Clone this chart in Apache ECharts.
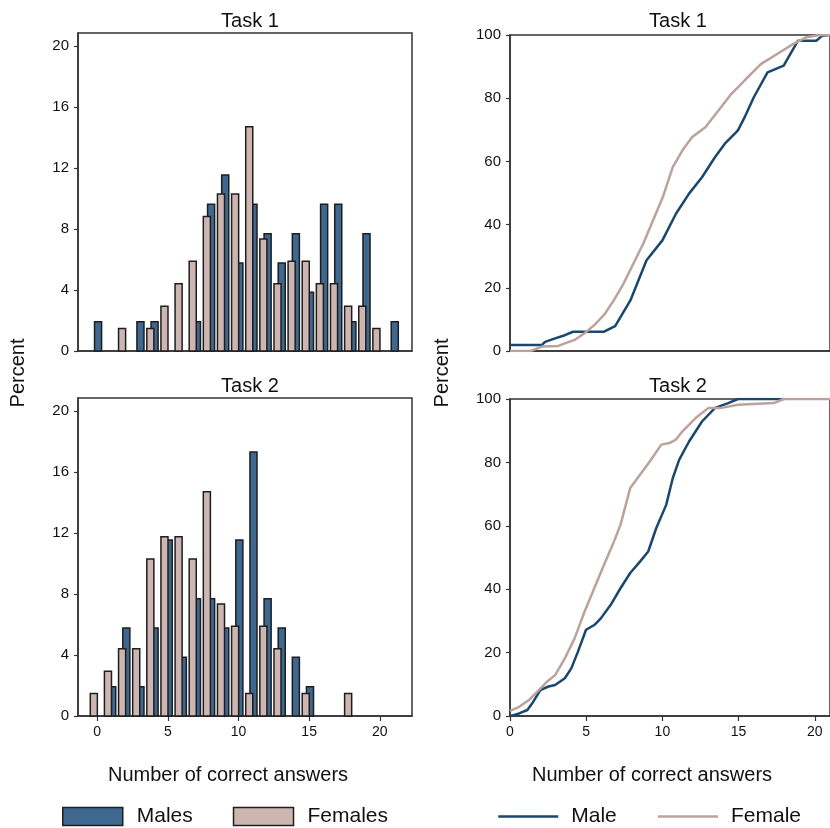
<!DOCTYPE html>
<html>
<head>
<meta charset="utf-8">
<script src="https://cdn.jsdelivr.net/npm/echarts@6/dist/echarts.min.js"></script>
<style>
html, body { margin: 0; padding: 0; background: #fff; }
#main { width: 830px; height: 828px; }
</style>
</head>
<body>
<div id="main"></div>
<script>
var myChart = echarts.init(document.getElementById('main'));

// histogram values (percent)
var t1MaleX = [0, 3, 4, 7, 8, 9, 10, 11, 12, 13, 14, 15, 16, 17, 18, 19, 21];
var t1MalePct = [1.92, 1.92, 1.92, 1.92, 9.62, 11.54, 5.77, 9.62, 7.69, 5.77, 7.69, 3.85, 9.62, 9.62, 1.92, 7.69, 1.92];
var t1FemaleX = [2, 4, 5, 6, 7, 8, 9, 10, 11, 12, 13, 14, 15, 16, 17, 18, 19, 20];
var t1FemalePct = [1.47, 1.47, 2.94, 4.41, 5.88, 8.82, 10.29, 10.29, 14.71, 7.35, 4.41, 5.88, 5.88, 4.41, 4.41, 2.94, 2.94, 1.47];

var t2MaleX = [1, 2, 3, 4, 5, 6, 7, 8, 9, 10, 11, 12, 13, 14, 15];
var t2MalePct = [1.92, 5.77, 1.92, 5.77, 11.54, 3.85, 7.69, 7.69, 5.77, 11.54, 17.31, 7.69, 5.77, 3.85, 1.92];
var t2FemaleX = [0, 1, 2, 3, 4, 5, 6, 7, 8, 9, 10, 11, 12, 13, 15, 18];
var t2FemalePct = [1.47, 2.94, 4.41, 4.41, 10.29, 11.76, 11.76, 10.29, 14.71, 7.35, 5.88, 1.47, 5.88, 4.41, 1.47, 1.47];

// cumulative curves [answers, percent]
var t1MaleCum = [[0, 1.92], [2.1, 1.92], [2.3, 2.9], [2.96, 4], [3.6, 5], [4.14, 6.1], [6.17, 6.1], [6.9, 7.9],
    [7.9, 16], [8.96, 28.7], [10.0, 35], [10.9, 43.5], [11.75, 49.8], [12.6, 55], [13.46, 61.4], [14.1, 65.6],
    [14.96, 69.8], [15.4, 74], [16.0, 80.3], [16.9, 88.2], [17.96, 90.3], [18.9, 98.2], [20.1, 98.2], [20.5, 99.8], [21, 100]];
var t1FemaleCum = [[0, 0], [1.35, 0], [2.1, 1.4], [3.17, 1.6], [3.6, 2.4], [4.24, 3.5], [4.89, 5.6], [5.53, 8.2],
    [6.17, 11.4], [6.82, 16.1], [7.46, 21.4], [8.1, 27.7], [8.75, 34], [9.39, 41.4], [10.03, 48.7], [10.68, 58.2],
    [11.32, 63.5], [11.96, 67.7], [12.82, 70.8], [13.68, 76.1], [14.53, 81.4], [15.39, 85.6], [16.46, 90.8],
    [17.53, 94], [18.6, 97.2], [19.46, 99.3], [20.32, 100], [21, 100]];
var t2MaleCum = [[0, 0], [0.28, 0.3], [0.6, 0.8], [1.14, 1.9], [1.46, 4], [1.99, 8.2], [2.53, 9.3], [2.96, 9.8],
    [3.6, 11.9], [4.03, 15.1], [4.46, 20.3], [4.99, 27.2], [5.53, 28.7], [5.96, 30.8], [6.6, 35], [7.25, 40.3],
    [7.89, 45.1], [8.53, 48.7], [9.07, 51.9], [9.6, 59.3], [10.25, 66.6], [10.68, 75], [11.1, 80.8], [11.75, 86.6],
    [12.6, 92.9], [13.46, 97.2], [14.32, 98.7], [14.96, 100], [17.96, 100]];
var t2FemaleCum = [[0, 1.6], [0.6, 2.9], [1.24, 5], [1.89, 8.2], [2.42, 10.8], [2.96, 12.9], [3.6, 18.2], [4.24, 24.5],
    [4.89, 32.9], [5.53, 40.3], [6.17, 47.7], [6.82, 55], [7.25, 60.3], [7.89, 71.9], [8.53, 76.1], [9.17, 80.3],
    [9.93, 85.6], [10.46, 86.1], [10.89, 87.2], [11.32, 89.8], [12.18, 94], [13.03, 97.2], [13.89, 97.2],
    [14.96, 98.2], [17.32, 98.7], [17.96, 100], [21, 100]];

var histTicks = [0, 4, 8, 12, 16, 20];
var xTicks = [0, 5, 10, 15, 20];

var FONT = 'Liberation Sans, Arial, sans-serif';
var maleFill = '#3e6890';
var femaleFill = '#cdb6b1';
var maleLine = '#1a476f';
var femaleLine = '#bca29c';
var edge = '#1e1e1e';

function pairs(xs, ys) {
    var res = [];
    for (var i = 0; i < xs.length; i++) {
        res.push([xs[i], ys[i]]);
    }
    return res;
}

// bars sit a little to the side of each integer, females drawn over males
function histBar(offset, color) {
    return function (params, api) {
        var x = api.value(0), y = api.value(1);
        var a = api.coord([x + offset - 0.25, y]);
        var b = api.coord([x + offset + 0.25, 0]);
        return {
            type: 'rect',
            shape: {x: a[0], y: a[1], width: b[0] - a[0], height: b[1] - a[1]},
            style: {fill: color, stroke: edge, lineWidth: 1.5}
        };
    };
}

function gridBox(left, top, width, height) {
    return {left: left, top: top, width: width, height: height, show: true,
        borderColor: '#333', borderWidth: 1.5, backgroundColor: 'transparent'};
}

function xAx(idx, min, max, labels) {
    return {
        type: 'value', gridIndex: idx, min: min, max: max,
        splitLine: {show: false},
        axisLine: {show: true, onZero: false, lineStyle: {color: '#333', width: 1.5}},
        axisTick: {show: labels, length: 5, customValues: xTicks, lineStyle: {color: '#333', width: 1.2}},
        axisLabel: {show: labels, customValues: xTicks, margin: 9, fontSize: 14, color: '#111', fontFamily: FONT}
    };
}

function yAx(idx, max, ticks) {
    return {
        type: 'value', gridIndex: idx, min: 0, max: max,
        splitLine: {show: false},
        axisLine: {show: true, onZero: false, lineStyle: {color: '#333', width: 1.5}},
        axisTick: {show: true, length: 4, customValues: ticks, lineStyle: {color: '#333', width: 1.2}},
        axisLabel: {customValues: ticks, margin: 9, fontSize: 15, color: '#111', fontFamily: FONT}
    };
}

var titleStyle = {fontSize: 20, fontWeight: 'normal', color: '#111', fontFamily: FONT};

option = {
    backgroundColor: '#fff',
    animation: false,
    title: [
        {text: 'Task 1', left: 245, top: 6, textAlign: 'center', textStyle: titleStyle},
        {text: 'Task 2', left: 245, top: 371, textAlign: 'center', textStyle: titleStyle},
        {text: 'Task 1', left: 673, top: 6, textAlign: 'center', textStyle: titleStyle},
        {text: 'Task 2', left: 673, top: 371, textAlign: 'center', textStyle: titleStyle}
    ],
    grid: [
        gridBox(78, 33, 334, 318),
        gridBox(78, 398, 334, 318),
        gridBox(510, 35, 327, 316),
        gridBox(510, 399, 327, 317)
    ],
    xAxis: [
        xAx(0, -1.36, 22.28, false),
        xAx(1, -1.36, 22.28, true),
        xAx(2, 0, 21, false),
        xAx(3, 0, 21, true)
    ],
    yAxis: [
        yAx(0, 20.85, histTicks),
        yAx(1, 20.85, histTicks),
        yAx(2, 100, [0, 20, 40, 60, 80, 100]),
        yAx(3, 100, [0, 20, 40, 60, 80, 100])
    ],
    legend: [
        {
            data: ['Males', 'Females'], left: 57, top: 801, icon: 'rect',
            itemWidth: 60, itemHeight: 18, itemGap: 40,
            itemStyle: {borderColor: edge, borderWidth: 1.5},
            textStyle: {fontSize: 21, color: '#111', fontFamily: FONT, padding: [0, 0, 0, 9]}
        },
        {
            data: ['Male', 'Female'], left: 492, top: 801,
            itemWidth: 60, itemHeight: 18, itemGap: 40,
            itemStyle: {opacity: 0},
            lineStyle: {width: 2.5},
            textStyle: {fontSize: 21, color: '#111', fontFamily: FONT, padding: [0, 0, 0, 8]}
        }
    ],
    graphic: [
        {type: 'text', x: 18, y: 373, rotation: Math.PI / 2,
            style: {text: 'Percent', font: '20px Liberation Sans', fill: '#111', textAlign: 'center', textVerticalAlign: 'middle'}},
        {type: 'text', x: 442, y: 373, rotation: Math.PI / 2,
            style: {text: 'Percent', font: '20px Liberation Sans', fill: '#111', textAlign: 'center', textVerticalAlign: 'middle'}},
        {type: 'text', x: 228, y: 775,
            style: {text: 'Number of correct answers', font: '20px Liberation Sans', fill: '#111', textAlign: 'center', textVerticalAlign: 'middle'}},
        {type: 'text', x: 652, y: 775,
            style: {text: 'Number of correct answers', font: '20px Liberation Sans', fill: '#111', textAlign: 'center', textVerticalAlign: 'middle'}}
    ],
    series: [
        {name: 'Males', type: 'custom', xAxisIndex: 0, yAxisIndex: 0, data: pairs(t1MaleX, t1MalePct),
            renderItem: histBar(0.06, maleFill), itemStyle: {color: maleFill}, encode: {x: 0, y: 1}},
        {name: 'Females', type: 'custom', xAxisIndex: 0, yAxisIndex: 0, data: pairs(t1FemaleX, t1FemalePct),
            renderItem: histBar(-0.24, femaleFill), itemStyle: {color: femaleFill}, encode: {x: 0, y: 1}},
        {name: 'Males', type: 'custom', xAxisIndex: 1, yAxisIndex: 1, data: pairs(t2MaleX, t2MalePct),
            renderItem: histBar(0.06, maleFill), itemStyle: {color: maleFill}, encode: {x: 0, y: 1}},
        {name: 'Females', type: 'custom', xAxisIndex: 1, yAxisIndex: 1, data: pairs(t2FemaleX, t2FemalePct),
            renderItem: histBar(-0.24, femaleFill), itemStyle: {color: femaleFill}, encode: {x: 0, y: 1}},
        {name: 'Male', type: 'line', xAxisIndex: 2, yAxisIndex: 2, data: t1MaleCum, symbol: 'none',
            itemStyle: {color: maleLine}, lineStyle: {color: maleLine, width: 2.5}},
        {name: 'Female', type: 'line', xAxisIndex: 2, yAxisIndex: 2, data: t1FemaleCum, symbol: 'none',
            itemStyle: {color: femaleLine}, lineStyle: {color: femaleLine, width: 2.5}},
        {name: 'Male', type: 'line', xAxisIndex: 3, yAxisIndex: 3, data: t2MaleCum, symbol: 'none',
            itemStyle: {color: maleLine}, lineStyle: {color: maleLine, width: 2.5}},
        {name: 'Female', type: 'line', xAxisIndex: 3, yAxisIndex: 3, data: t2FemaleCum, symbol: 'none',
            itemStyle: {color: femaleLine}, lineStyle: {color: femaleLine, width: 2.5}}
    ]
};

myChart.setOption(option);
</script>
</body>
</html>
